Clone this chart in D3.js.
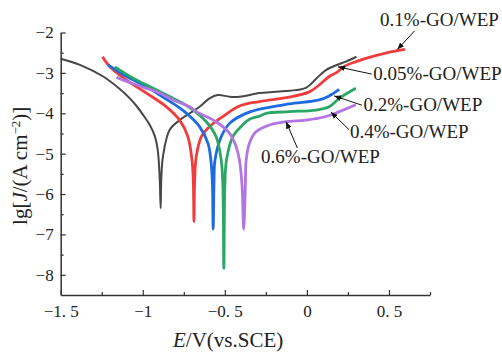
<!DOCTYPE html>
<html>
<head>
<meta charset="utf-8">
<script src="https://cdn.jsdelivr.net/npm/d3@7"></script>
<style>
  body { margin: 0; background: #fff; }
  svg text { font-family: "Liberation Serif", "Times New Roman", serif; fill: #222; }
</style>
</head>
<body>
<div id="chart"></div>
<script>
// Tafel curves, E (V vs SCE) and lg J
const e005 = [-1.5, -1.383, -1.241, -1.14, -1.079, -1.038, -0.998, -0.957, -0.927, -0.909, -0.897, -0.891, -0.887, -0.877, -0.836, -0.775, -0.714, -0.654, -0.593, -0.543, -0.471, -0.411, -0.289, -0.168, -0.006, 0.055, 0.116, 0.197, 0.237, 0.302];
const j005 = [-2.65, -2.80, -3.09, -3.40, -3.63, -3.82, -4.04, -4.29, -4.56, -4.9, -5.6, -6.35, -5.6, -5.07, -4.41, -4.17, -4.0, -3.84, -3.63, -3.55, -3.59, -3.59, -3.50, -3.46, -3.37, -3.15, -2.93, -2.78, -2.72, -2.60];

const e01 = [-1.245, -1.2, -1.099, -0.978, -0.856, -0.775, -0.725, -0.700, -0.692, -0.688, -0.684, -0.674, -0.643, -0.593, -0.512, -0.411, -0.289, -0.107, 0.015, 0.075, 0.136, 0.177, 0.237, 0.30, 0.359, 0.48, 0.598];
const j01 = [-2.60, -2.85, -3.18, -3.50, -3.84, -4.17, -4.58, -5.16, -5.7, -6.68, -5.7, -5.07, -4.58, -4.33, -4.08, -3.82, -3.71, -3.60, -3.47, -3.30, -3.09, -3.00, -2.82, -2.72, -2.64, -2.51, -2.42];

const e02 = [-1.211, -1.099, -0.978, -0.877, -0.755, -0.654, -0.603, -0.585, -0.576, -0.571, -0.566, -0.560, -0.522, -0.471, -0.391, -0.289, -0.107, 0.075, 0.136, 0.197];
const j02 = [-2.80, -3.09, -3.34, -3.60, -3.93, -4.33, -4.74, -5.16, -5.7, -6.87, -5.7, -5.16, -4.58, -4.25, -4.04, -3.90, -3.77, -3.67, -3.57, -3.41];

const e04 = [-1.17, -1.059, -0.937, -0.795, -0.714, -0.613, -0.553, -0.522, -0.512, -0.506, -0.500, -0.490, -0.451, -0.391, -0.35, -0.289, -0.248, -0.107, 0.055, 0.136, 0.197, 0.298];
const j04 = [-2.85, -3.13, -3.38, -3.67, -3.86, -4.21, -4.58, -5.16, -5.8, -7.84, -5.8, -5.16, -4.58, -4.29, -4.15, -4.07, -4.0, -3.96, -3.92, -3.84, -3.63, -3.38];

const e06 = [-1.16, -1.038, -0.897, -0.816, -0.714, -0.674, -0.553, -0.471, -0.431, -0.411, -0.395, -0.385, -0.375, -0.37, -0.35, -0.31, -0.228, -0.127, -0.006, 0.116, 0.197, 0.298];
const j06 = [-3.11, -3.30, -3.50, -3.67, -3.84, -3.96, -4.21, -4.50, -4.83, -5.16, -5.8, -6.87, -5.8, -5.16, -4.74, -4.46, -4.29, -4.21, -4.17, -4.08, -3.96, -3.79];

const seriesNames = ['0.05%-GO/WEP', '0.1%-GO/WEP', '0.2%-GO/WEP', '0.4%-GO/WEP', '0.6%-GO/WEP'];
const seriesColors = ['#474747', '#ef3d3d', '#1c6be0', '#2aa765', '#b275e3'];

const xTicks = [-1.5, -1, -0.5, 0, 0.5];
const xTickLabels = ['\u22121. 5', '\u22121', '\u22120. 5', '0', '0. 5'];
const xMinor = [-1.25, -0.75, -0.25, 0.25, 0.75];
const yTicks = [-2, -3, -4, -5, -6, -7, -8];
const yTickLabels = ['\u22122', '\u22123', '\u22124', '\u22125', '\u22126', '\u22127', '\u22128'];
const yMinor = [-2.5, -3.5, -4.5, -5.5, -6.5, -7.5];

// label anchor (E, lgJ), arrow start and arrow tip, in data units
const labelAt = [[0.405, -3.17], [0.446, -1.84], [0.345, -3.95], [0.262, -4.62], [-0.279, -5.23]];
const arrowFrom = [[0.395, -3.03], [0.657, -1.955], [0.335, -3.80], [0.258, -4.41], [-0.058, -4.86]];
const arrowTo = [[0.189, -2.85], [0.551, -2.42], [0.166, -3.57], [0.146, -3.97], [-0.127, -4.21]];

const W = 502, H = 352;
const margin = { top: 32.5, right: 72, bottom: 57, left: 60.7 };
const width = W - margin.left - margin.right;
const height = H - margin.top - margin.bottom;

const svg = d3.select('#chart')
  .append('svg')
  .attr('width', W)
  .attr('height', H);

const g = svg.append('g')
  .attr('transform', 'translate(' + margin.left + ',' + margin.top + ')');

const x = d3.scaleLinear().domain([-1.5, 0.75]).range([0, width]);
const y = d3.scaleLinear().domain([-8.5, -2]).range([height, 0]);

// curves
const allE = [e005, e01, e02, e04, e06];
const allJ = [j005, j01, j02, j04, j06];
const line = d3.line().x(d => x(d[0])).y(d => y(d[1])).curve(d3.curveCatmullRom.alpha(0.5));

allE.forEach((es, i) => {
  const pts = es.map((e, k) => [e, allJ[i][k]]);
  g.append('path')
    .attr('d', line(pts))
    .attr('fill', 'none')
    .attr('stroke', seriesColors[i])
    .attr('stroke-width', i === 0 ? 2 : 2.8)
    .attr('stroke-linejoin', 'round');
});

// axes
g.append('g')
  .attr('transform', 'translate(0,' + height + ')')
  .call(d3.axisBottom(x).tickValues(xTicks)
    .tickFormat((d, i) => xTickLabels[i])
    .tickSizeInner(-5).tickSizeOuter(0).tickPadding(10));
g.append('g')
  .attr('transform', 'translate(0,' + height + ')')
  .call(d3.axisBottom(x).tickValues(xMinor).tickFormat('').tickSizeInner(-3).tickSizeOuter(0))
  .select('.domain').remove();

g.append('g')
  .call(d3.axisLeft(y).tickValues(yTicks)
    .tickFormat((d, i) => yTickLabels[i])
    .tickSizeInner(-5).tickSizeOuter(0).tickPadding(7));
g.append('g')
  .call(d3.axisLeft(y).tickValues(yMinor).tickFormat('').tickSizeInner(-3).tickSizeOuter(0))
  .select('.domain').remove();

g.selectAll('.domain').attr('stroke', '#333').attr('stroke-width', 1.5);
g.selectAll('.tick line').attr('stroke', '#333').attr('stroke-width', 1.2);
g.selectAll('.tick text')
  .style('font-family', '"Liberation Serif", serif')
  .style('font-size', '17px')
  .attr('fill', '#222');

// axis titles
svg.append('text')
  .attr('x', margin.left + x(-0.48))
  .attr('y', 347)
  .attr('text-anchor', 'middle')
  .style('font-size', '21px')
  .html('<tspan font-style="italic">E</tspan>/V(vs.SCE)');

svg.append('text')
  .attr('transform', 'translate(27,' + (margin.top + y(-5.3)) + ') rotate(-90)')
  .attr('text-anchor', 'middle')
  .style('font-size', '21px')
  .html('lg[<tspan font-style="italic">J</tspan>/(A cm<tspan baseline-shift="super" font-size="13px">\u22122</tspan>)]');

// annotations
svg.append('defs').append('marker')
  .attr('id', 'arrow')
  .attr('viewBox', '0 0 10 10')
  .attr('refX', 10).attr('refY', 5)
  .attr('markerWidth', 7).attr('markerHeight', 7)
  .attr('markerUnits', 'userSpaceOnUse')
  .attr('orient', 'auto')
  .append('path')
  .attr('d', 'M0,1 L10,5 L0,9 z')
  .attr('fill', '#111');

seriesNames.forEach((name, i) => {
  g.append('line')
    .attr('x1', x(arrowFrom[i][0])).attr('y1', y(arrowFrom[i][1]))
    .attr('x2', x(arrowTo[i][0])).attr('y2', y(arrowTo[i][1]))
    .attr('stroke', '#111')
    .attr('stroke-width', 1)
    .attr('marker-end', 'url(#arrow)');
  g.append('text')
    .attr('x', x(labelAt[i][0]))
    .attr('y', y(labelAt[i][1]))
    .style('font-size', '19px')
    .text(name);
});
</script>
</body>
</html>
